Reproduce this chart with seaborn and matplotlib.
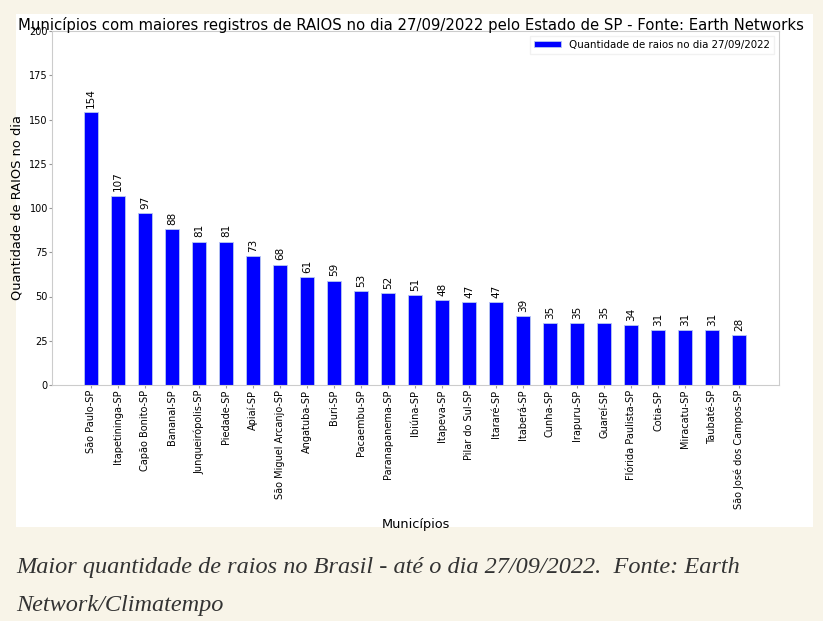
import matplotlib
matplotlib.use("Agg")
import matplotlib.pyplot as plt
from matplotlib.patches import Rectangle
import seaborn as sns
import pandas as pd

municipios = ["São Paulo-SP", "Itapetininga-SP", "Capão Bonito-SP", "Bananal-SP",
              "Junqueirópolis-SP", "Piedade-SP", "Apiaí-SP", "São Miguel Arcanjo-SP",
              "Angatuba-SP", "Buri-SP", "Pacaembu-SP", "Paranapanema-SP", "Ibiúna-SP",
              "Itapeva-SP", "Pilar do Sul-SP", "Itararé-SP", "Itaberá-SP", "Cunha-SP",
              "Irapuru-SP", "Guareí-SP", "Flórida Paulista-SP", "Cotia-SP",
              "Miracatu-SP", "Taubaté-SP", "São José dos Campos-SP"]
raios = [154, 107, 97, 88, 81, 81, 73, 68, 61, 59, 53, 52, 51, 48, 47, 47, 39,
         35, 35, 35, 34, 31, 31, 31, 28]
yticks = [0, 25, 50, 75, 100, 125, 150, 175, 200]

df = pd.DataFrame({"Municípios": municipios, "Raios": raios})

sns.set_style("white")
plt.rcParams["font.family"] = ["DejaVu Sans"]
plt.rcParams["text.color"] = "black"
plt.rcParams["axes.labelcolor"] = "black"
plt.rcParams["xtick.color"] = "black"
plt.rcParams["ytick.color"] = "black"

fig = plt.figure(figsize=(8.23, 6.21), dpi=100)
fig.patch.set_facecolor("#f8f4e8")
fig.add_artist(Rectangle((16 / 823, 1 - 527 / 621), (813 - 16) / 823, (527 - 14) / 621,
                         transform=fig.transFigure, facecolor="white",
                         edgecolor="none", zorder=0))

ax = fig.add_axes([52 / 823, 1 - 385 / 621, (779 - 52) / 823, (385 - 31) / 621])
sns.barplot(data=df, x="Municípios", y="Raios", color="#0000ff", width=0.5,
            saturation=1, ax=ax, label="Quantidade de raios no dia 27/09/2022",
            edgecolor="#b8c8f0", linewidth=0.6)
ax.bar_label(ax.containers[0], rotation=90, padding=3, fontsize=7.5)

ax.set_xlim(-1.44, 25.48)
ax.set_ylim(0, 200)
ax.set_yticks(yticks)
ax.tick_params(axis="x", rotation=90, labelsize=7, length=2, pad=1.5,
               color="#999999", labelcolor="black")
ax.tick_params(axis="y", labelsize=7, length=2, pad=1,
               color="#999999", labelcolor="black")
ax.tick_params(left=True, bottom=True)
for s in ax.spines.values():
    s.set_color("#cccccc")
    s.set_linewidth(0.8)

ax.set_xlabel("Municípios", fontsize=9.3, labelpad=6)
ax.set_ylabel("Quantidade de RAIOS no dia", fontsize=9.4, labelpad=4)
ax.set_title("Municípios com maiores registros de RAIOS no dia 27/09/2022 "
             "pelo Estado de SP - Fonte: Earth Networks", fontsize=10.7, pad=1,
             color="black", x=0.494)
ax.legend(loc="upper right", fontsize=7.4, frameon=True, edgecolor="#eeeeee",
          fancybox=False, handlelength=2.6, handleheight=0.6,
          borderaxespad=0.45)

caption_font = dict(family=["Liberation Serif"], style="italic", fontsize=17.5,
                    color="#333333", va="center")
fig.text(16 / 823, 1 - 568 / 621,
         "Maior quantidade de raios no Brasil - até o dia 27/09/2022.  Fonte: Earth",
         **caption_font)
fig.text(16 / 823, 1 - 605 / 621, "Network/Climatempo", **caption_font)

fig.savefig("out.png", dpi=100, facecolor=fig.get_facecolor())
